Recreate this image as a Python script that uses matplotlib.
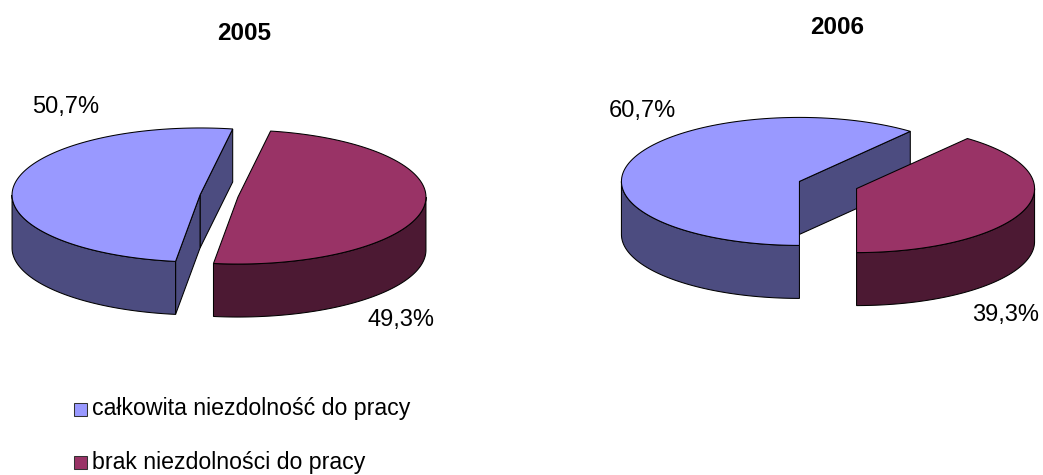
import numpy as np
import matplotlib
matplotlib.use("Agg")
import matplotlib.pyplot as plt
from matplotlib.patches import Polygon, Rectangle

plt.rcParams['font.family'] = ['Liberation Sans', 'DejaVu Sans']

# ---- data ----
categories = ["całkowita niezdolność do pracy", "brak niezdolności do pracy"]
years = ["2005", "2006"]
values_2005 = [50.7, 49.3]
values_2006 = [60.7, 39.3]
label_2005 = ["50,7%", "49,3%"]
label_2006 = ["60,7%", "39,3%"]

top_colors = ["#9999FF", "#993366"]
side_colors = ["#4C4C80", "#4C1933"]

W, H = 1043, 475
fig = plt.figure(figsize=(W / 100, H / 100), dpi=100)
ax = fig.add_axes([0, 0, 1, 1])
ax.set_xlim(0, W)
ax.set_ylim(H, 0)
ax.axis("off")

LW = 0.75


def pt(cx, cy, rx, ry, t):
    r = np.radians(t)
    return np.column_stack([cx + rx * np.cos(r), cy - ry * np.sin(r)])


def arc(cx, cy, rx, ry, t1, t2, n=120):
    t = np.linspace(t1, t2, n)
    return pt(cx, cy, rx, ry, t)


def pie3d(values, center, rx, ry, depth, start, explode):
    cx0, cy0 = center
    total = float(sum(values))
    spans = [v / total * 360.0 for v in values]
    slices = []
    a = start
    for i, s in enumerate(spans):
        b = a + s
        m = np.radians((a + b) / 2)
        cx = cx0 + explode * rx * np.cos(m)
        cy = cy0 - explode * ry * np.sin(m)
        slices.append((i, a, b, cx, cy))
        a = b
    # radial side faces
    for i, a, b, cx, cy in slices:
        for t, nrm in ((a, a - 90), (b, b + 90)):
            if np.sin(np.radians(nrm)) < -1e-3:
                e = pt(cx, cy, rx, ry, np.array([t]))[0]
                poly = [(cx, cy), (e[0], e[1]), (e[0], e[1] + depth), (cx, cy + depth)]
                ax.add_patch(Polygon(poly, closed=True, fc=side_colors[i], ec="black", lw=LW))
    # outer curved walls (front part only)
    for i, a, b, cx, cy in slices:
        for k in range(-1, 3):
            lo, hi = 180 + 360 * k, 360 + 360 * k
            t1, t2 = max(a, lo), min(b, hi)
            if t2 - t1 > 0.01:
                top = arc(cx, cy, rx, ry, t1, t2)
                bot = top[::-1].copy()
                bot[:, 1] += depth
                poly = np.vstack([top, bot])
                ax.add_patch(Polygon(poly, closed=True, fc=side_colors[i], ec="black", lw=LW))
    # top faces
    for i, a, b, cx, cy in slices:
        poly = np.vstack([[cx, cy], arc(cx, cy, rx, ry, a, b)])
        ax.add_patch(Polygon(poly, closed=True, fc=top_colors[i], ec="black", lw=LW))


pie3d(values_2005, (219, 196), 188, 67, 53, 80, 0.102)
pie3d(values_2006, (828, 185), 178, 64, 53, 51.48, 0.17)

# titles
ax.text(244, 33, years[0], ha="center", va="center", fontsize=17.5, fontweight="bold")
ax.text(837, 28, years[1], ha="center", va="center", fontsize=17.5, fontweight="bold")

# percentage labels
lab_fs = 17
ax.text(66, 107, label_2005[0], ha="center", va="center", fontsize=lab_fs)
ax.text(401, 320, label_2005[1], ha="center", va="center", fontsize=lab_fs)
ax.text(642, 111, label_2006[0], ha="center", va="center", fontsize=lab_fs)
ax.text(1006, 315, label_2006[1], ha="center", va="center", fontsize=lab_fs)

# legend
leg_y = [409, 462]
for i, name in enumerate(categories):
    ax.add_patch(Rectangle((74, leg_y[i] - 6.5), 13, 13, fc=top_colors[i], ec="#333333", lw=LW))
    ax.text(92, leg_y[i], name, ha="left", va="center", fontsize=16.7)

fig.savefig("out.png", dpi=100)
